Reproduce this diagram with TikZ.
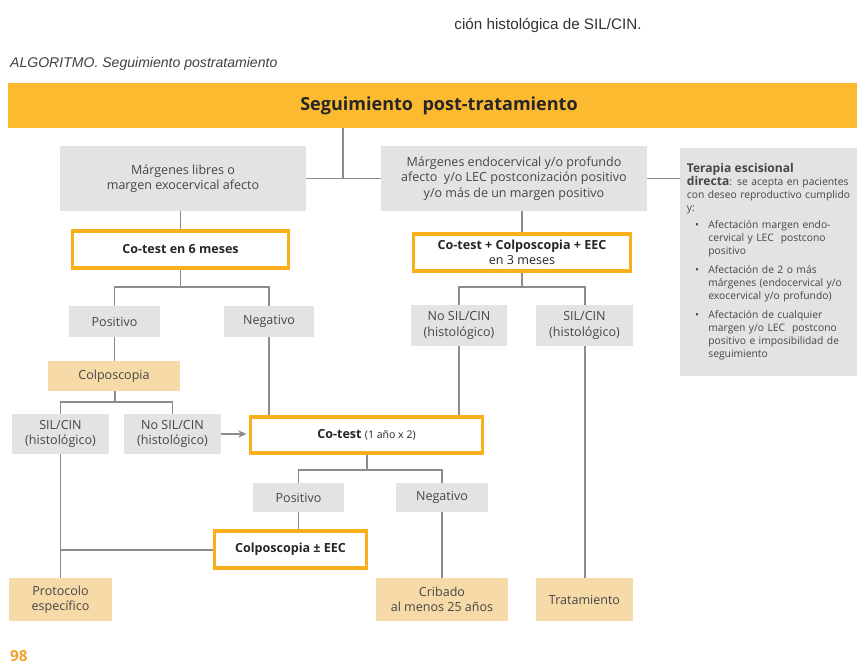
\documentclass[tikz,border=0pt]{standalone}
\usepackage{fontspec}
\setmainfont{Open Sans}
\newfontfamily\arialfont{Liberation Sans}
\usetikzlibrary{arrows.meta, positioning}

\definecolor{barorange}{RGB}{251,186,48}
\definecolor{boxorange}{RGB}{250,176,28}
\definecolor{boxgray}{RGB}{226,227,229}
\definecolor{boxtan}{RGB}{246,218,168}
\definecolor{linegray}{RGB}{140,140,140}
\definecolor{textgray}{RGB}{70,70,70}
\definecolor{pageorange}{RGB}{245,160,40}

\newcommand{\boxfont}{\fontsize{10.7}{13}\selectfont}
\newcommand{\sidefont}{\fontsize{8.8}{11.1}\selectfont}

\begin{document}
\begin{tikzpicture}[
    x=0.03cm, y=-0.03cm,
    greybox/.style={rectangle, fill=boxgray, text=textgray, align=center, inner sep=0pt, font=\boxfont},
    testbox/.style={rectangle, draw=boxorange, line width=3pt, fill=white, text=black!85, align=center, inner sep=0pt, font=\boxfont\bfseries},
    endbox/.style={rectangle, fill=boxtan, text=textgray, align=center, inner sep=0pt, font=\boxfont},
    link/.style={draw=linegray, line width=1.7pt},
    arrow/.style={link, -{Stealth[length=2.5mm, width=2.2mm]}, shorten >=2pt}
]
\useasboundingbox (0,0) rectangle (857,666);

% Page text
\node[font=\arialfont\fontsize{13}{15}\selectfont, text=black!80] (pagetext) at (548,25) {ción histológica de SIL/CIN.};
\node[anchor=west, font=\arialfont\itshape\fontsize{12}{14}\selectfont, text=black!75] (caption) at (6,64) {ALGORITMO. Seguimiento postratamiento};

% Header bar
\node[rectangle, fill=barorange, minimum width=25.86cm, minimum height=1.35cm, inner sep=0pt, font=\fontsize{15.4}{17}\selectfont\bfseries, text=black!85] (bar) at (439,105.5) {Seguimiento~~post-tratamiento};

% First level
\node[greybox, minimum width=7.38cm, minimum height=1.95cm] (libres) at (183,178.5) {Márgenes libres o\\margen exocervical afecto};
\node[greybox, minimum width=7.98cm, minimum height=1.95cm] (afecto) at (514,178.5) {Márgenes endocervical y/o profundo\\afecto~ y/o LEC postconización positivo\\y/o más de un margen positivo};
\node[rectangle, fill=boxgray, text=textgray, anchor=north west, text width=5.6cm, minimum height=6.84cm, inner xsep=0.2cm, inner ysep=0pt, align=left, font=\sidefont] (directa) at (680,148) {%
{\fontsize{10.3}{11.1}\selectfont\bfseries Terapia escisional}\\
{\fontsize{10.3}{11.1}\selectfont\bfseries directa}: se acepta en pacientes\\
con deseo reproductivo cumplido\\
y:\\[4pt]
\begin{tabular}{@{\hspace{7pt}}l@{\hspace{8pt}}l}
• & Afectación margen endo-\\
  & cervical y LEC~ postcono\\
  & positivo\\[5pt]
• & Afectación de 2 o más\\
  & márgenes (endocervical y/o\\
  & exocervical y/o profundo)\\[5pt]
• & Afectación de cualquier\\
  & margen y/o LEC~ postcono\\
  & positivo e imposibilidad de\\
  & seguimiento
\end{tabular}};

% Co-test boxes
\node[testbox, minimum width=6.47cm, minimum height=1.12cm] (cotest6) at (180.5,249.5) {Co-test en 6 meses};
\node[testbox, minimum width=6.5cm, minimum height=1.12cm] (cotest3) at (522,252.5) {Co-test + Colposcopia + EEC\\{\mdseries en 3 meses}};

% Results of first co-test
\node[greybox, minimum width=2.73cm, minimum height=0.93cm] (pos1) at (114.5,321.5) {Positivo};
\node[greybox, minimum width=2.7cm, minimum height=0.93cm] (neg1) at (269,321.5) {Negativo};
\node[greybox, minimum width=2.88cm, minimum height=1.23cm] (nosilm) at (459,325.5) {No SIL/CIN\\(histológico)};
\node[greybox, minimum width=2.91cm, minimum height=1.23cm] (silm) at (584.5,325.5) {SIL/CIN\\(histológico)};

% Colposcopy branch
\node[endbox, minimum width=3.96cm, minimum height=0.9cm] (colpo) at (114,376) {Colposcopia};
\node[greybox, minimum width=2.91cm, minimum height=1.2cm] (sill) at (60.5,434) {SIL/CIN\\(histológico)};
\node[greybox, minimum width=2.91cm, minimum height=1.2cm] (nosill) at (172.5,434) {No SIL/CIN\\(histológico)};

% Annual co-test
\node[testbox, minimum width=6.95cm, minimum height=1.09cm] (cotest1) at (366.5,435) {Co-test {\mdseries\fontsize{9}{10}\selectfont (1 año x 2)}};
\node[greybox, minimum width=2.73cm, minimum height=0.87cm] (pos2) at (298.5,497.5) {Positivo};
\node[greybox, minimum width=2.76cm, minimum height=0.87cm] (neg2) at (442,497.5) {Negativo};
\node[testbox, minimum width=4.55cm, minimum height=1.12cm] (colpoeec) at (290.5,549.5) {Colposcopia ± EEC};

% Outcomes
\node[endbox, minimum width=3.09cm, minimum height=1.29cm] (protocolo) at (60.5,599.5) {Protocolo\\específico};
\node[endbox, minimum width=3.96cm, minimum height=1.29cm] (cribado) at (442,599.5) {Cribado\\al menos 25 años};
\node[endbox, minimum width=2.91cm, minimum height=1.29cm] (trat) at (584.5,599.5) {Tratamiento};

% Page number
\node[anchor=west, font=\fontsize{13}{15}\selectfont\bfseries, text=pageorange] (page) at (6,656) {98};

% Connectors
\coordinate (top) at (343,178.5);
\coordinate (split1) at (181,287);
\coordinate (split2) at (115,402);
\coordinate (split3) at (522,287);
\coordinate (split4) at (367,470);

\draw[link] (bar.south -| top) -- (top);
\draw[link] (libres.east) -- (afecto.west);
\draw[link] (afecto.east) -- (afecto.east -| directa.west);
\draw[link] (cotest6.north) -- (cotest6.north |- libres.south);
\draw[link] (cotest3.north) -- (cotest3.north |- afecto.south);

\draw[link] (cotest6.south) -- (cotest6.south |- split1);
\draw[link] (pos1.north) |- (split1) -| (neg1.north);
\draw[link] (pos1.south) -- (pos1.south |- colpo.north);
\draw[link] (colpo.south -| split2) -- (split2);
\draw[link] (sill.north) |- (split2) -| (nosill.north);
\draw[arrow] (nosill.east) -- (cotest1.west |- nosill.east);
\draw[link] (neg1.south) -- (neg1.south |- cotest1.north);

\draw[link] (cotest3.south) -- (split3);
\draw[link] (nosilm.north) |- (split3) -| (silm.north);
\draw[link] (nosilm.south) -- (nosilm.south |- cotest1.north);
\draw[link] (silm.south) -- (trat.north);

\draw[link] (cotest1.south -| split4) -- (split4);
\draw[link] (pos2.north) |- (split4) -| (neg2.north);
\draw[link] (pos2.south) -- (pos2.south |- colpoeec.north);
\draw[link] (neg2.south) -- (cribado.north);
\draw[link] (sill.south) -- (protocolo.north);
\draw[link] (colpoeec.west) -- (colpoeec.west -| sill.south);

\end{tikzpicture}
\end{document}
